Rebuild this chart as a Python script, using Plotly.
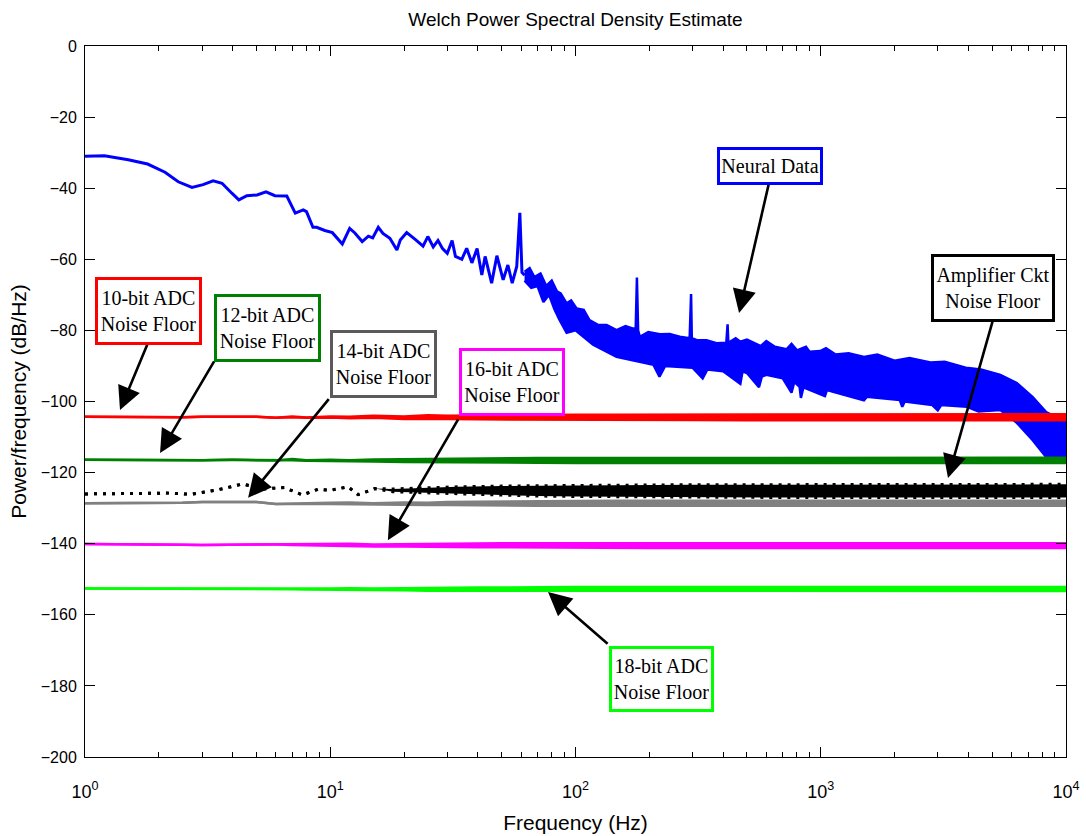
import plotly.graph_objects as go

# ---------------- data ----------------
neural_low_f = [1, 1.2, 1.5, 1.8, 2.12, 2.4, 2.73, 3.03, 3.33, 3.62, 3.97, 4.24, 4.57, 5.03, 5.47,
                5.95, 6.65, 7.2, 7.76, 8.0, 8.5, 8.8, 9.5, 10.2, 11.2, 12.0, 12.6, 13.5, 14.3, 14.9,
                15.7, 16.4, 17.5, 18.7, 19.3, 20.5, 22.2, 23.9, 25, 26.3, 27.5, 28.7, 30, 31.4, 32.4,
                34.4, 36, 37.8, 39.7, 41.5, 42.8, 45.5, 47.8, 50.7, 53, 55.2, 57.6, 59.3, 60.5, 62]
neural_low_v = [-31, -30.9, -32.0, -33.2, -35.5, -38.2, -39.8, -39.0, -37.9, -38.6, -41.4, -43.3, -42.1,
                -41.9, -41.0, -42.1, -42.2, -47.0, -46.1, -46.6, -51.0, -51.0, -51.9, -52.5, -55.7,
                -51.3, -52.6, -55.0, -53.5, -54.0, -51.0, -52.7, -54.1, -57.4, -54.6, -52.5, -54.4,
                -56.3, -53.6, -56.5, -54.7, -57.0, -58.3, -54.7, -59.2, -60.0, -56.9, -61.0, -57.0,
                -64.4, -59.2, -66.7, -59.0, -65.8, -61.6, -66.7, -62.0, -46.9, -63.7, -64.5]

neural_hi_f = [62, 65, 68, 72, 76, 80, 84, 87, 92, 96, 101, 108, 114, 124, 134, 147, 160, 172, 176,
               178, 180, 183, 198, 221, 242, 266, 292, 296, 298, 311, 342, 376, 412, 417, 420, 450,
               470, 500, 570, 600, 650, 725, 760, 800, 870, 900, 995, 1050, 1150, 1300, 1500, 1700,
               2000, 2300, 2800, 3200, 3900, 4500, 5400, 6300, 7300, 8300, 9200, 10000]
neural_hi_v = [-63.5, -62.5, -65, -64, -67.5, -66, -69, -69.6, -72.4, -71.6, -73.8, -74.2, -77.1,
               -78.5, -78.5, -79.9, -78.8, -79.5, -79.5, -65.1, -80, -81.8, -80.5, -81.1, -81, -81.8,
               -82.2, -69.8, -82.2, -82.7, -82.8, -83.6, -83.5, -78.3, -83.5, -82.2, -83.2, -82.6,
               -84.4, -83.0, -84.6, -85.3, -83.8, -85.6, -84.6, -86.0, -85.8, -85.0, -86.8, -86.4,
               -87.5, -86.8, -88.5, -87.8, -89.0, -88.8, -90.5, -91.0, -92.5, -94.8, -98.7, -103.0,
               -104.5, -105.5]

neural_lo_f = [62, 66, 70, 74, 78, 82, 86, 92, 100, 118, 147, 208, 220, 232, 300, 330, 345, 400, 470,
               480, 500, 560, 575, 600, 700, 760, 780, 820, 830, 850, 1040, 1060, 1500, 1540, 2100,
               2150, 2200, 2850, 3000, 3100, 3950, 4400, 5400, 6300, 7300, 8300, 9200, 10000]
neural_lo_v = [-66, -68, -67.5, -72, -70, -74, -77, -80.7, -80, -84, -87.4, -89.7, -93, -90, -90.5,
               -93.5, -91, -91.5, -95, -91.5, -92, -96, -93, -92.5, -93.5, -97.5, -94.5, -95.9, -99,
               -96, -98.5, -96.8, -99.7, -98.7, -99.6, -101.5, -100, -101, -102.5, -101, -101.5,
               -102.8, -102.4, -106, -110.8, -115.6, -116, -116]

floor_f = [1, 1.5, 2, 2.5, 3, 4, 5, 6, 7, 8, 10, 12, 15, 20, 25, 30, 40, 50, 70, 100, 150, 200,
           300, 500, 700, 1000, 1500, 2000, 3000, 5000, 7000, 10000]

adc10_hi = [-104.3, -104.4, -104.5, -104.4, -104.3, -104.3, -104.3, -104.6, -104.2, -104.5, -104.2,
            -104.3, -104.0, -104.2, -103.9, -104.0, -103.9, -103.8, -103.8, -103.7, -103.7, -103.7,
            -103.6, -103.6, -103.6, -103.6, -103.6, -103.6, -103.6, -103.6, -103.6, -103.6]
adc10_lo = [-104.3, -104.4, -104.5, -104.4, -104.3, -104.3, -104.3, -104.6, -104.4, -104.6, -104.5,
            -104.7, -104.6, -104.9, -104.8, -104.9, -105.0, -105.0, -105.1, -105.1, -105.2, -105.2,
            -105.2, -105.3, -105.3, -105.3, -105.3, -105.3, -105.3, -105.3, -105.3, -105.3]

adc12_hi = [-116.4, -116.5, -116.5, -116.5, -116.5, -116.4, -116.4, -116.6, -116.2, -116.5, -116.4,
            -116.5, -116.3, -116.2, -116.2, -116.1, -116.0, -116.0, -115.9, -115.9, -115.9, -115.8,
            -115.8, -115.8, -115.8, -115.8, -115.8, -115.8, -115.8, -115.8, -115.8, -115.8]
adc12_lo = [-116.4, -116.5, -116.5, -116.5, -116.5, -116.4, -116.4, -116.6, -116.5, -116.7, -116.7,
            -116.8, -116.9, -117.0, -117.0, -117.1, -117.1, -117.2, -117.2, -117.3, -117.3, -117.3,
            -117.3, -117.3, -117.3, -117.3, -117.3, -117.3, -117.3, -117.3, -117.3, -117.3]

adc14_hi = [-128.6, -128.6, -128.6, -128.5, -128.3, -128.4, -128.3, -128.8, -128.6, -128.6, -128.5,
            -128.4, -128.6, -128.4, -128.5, -128.3, -128.2, -128.1, -128.0, -128.0, -127.9, -127.9,
            -127.9, -127.9, -127.9, -127.9, -127.9, -127.9, -127.9, -127.9, -127.9, -127.9]
adc14_lo = [-128.6, -128.6, -128.6, -128.5, -128.3, -128.4, -128.3, -128.8, -128.7, -128.8, -128.8,
            -128.9, -129.0, -129.0, -129.1, -129.1, -129.2, -129.2, -129.3, -129.3, -129.3, -129.3,
            -129.3, -129.3, -129.3, -129.3, -129.3, -129.3, -129.3, -129.3, -129.3, -129.3]

adc16_hi = [-140.1, -140.1, -140.2, -140.3, -140.4, -140.3, -140.2, -140.2, -140.2, -140.2, -140.1,
            -140.0, -140.2, -140.1, -140.0, -140.0, -140.0, -139.9, -139.9, -139.9, -139.9, -139.9,
            -139.9, -139.9, -139.9, -139.9, -139.9, -139.9, -139.9, -139.9, -139.9, -139.9]
adc16_lo = [-140.1, -140.1, -140.2, -140.3, -140.4, -140.3, -140.2, -140.2, -140.4, -140.5, -140.6,
            -140.7, -140.8, -140.8, -140.9, -140.9, -141.0, -141.0, -141.1, -141.1, -141.2, -141.2,
            -141.2, -141.2, -141.2, -141.2, -141.2, -141.2, -141.2, -141.2, -141.2, -141.2]

adc18_hi = [-152.6, -152.6, -152.7, -152.7, -152.7, -152.6, -152.6, -152.8, -152.6, -152.6, -152.6,
            -152.5, -152.6, -152.5, -152.4, -152.4, -152.3, -152.3, -152.2, -152.2, -152.2, -152.2,
            -152.2, -152.2, -152.2, -152.2, -152.2, -152.2, -152.2, -152.2, -152.2, -152.2]
adc18_lo = [-152.6, -152.6, -152.7, -152.7, -152.7, -152.6, -152.6, -152.8, -152.8, -152.9, -152.9,
            -153.0, -153.1, -153.1, -153.2, -153.2, -153.2, -153.3, -153.3, -153.3, -153.3, -153.3,
            -153.3, -153.3, -153.3, -153.3, -153.3, -153.3, -153.3, -153.3, -153.3, -153.3]

amp_f = [1, 1.5, 2, 2.1, 2.7, 3.5, 4.4, 5.3, 6.5, 7.7, 8.9, 10, 11.8, 13, 15.2, 18, 22, 27, 33, 40,
         50, 70, 100, 150, 200, 300, 500, 700, 1000, 1500, 2000, 3000, 5000, 7000, 10000]
amp_hi = [-126.0, -126.0, -125.8, -125.7, -126.1, -124.8, -123.2, -124.6, -124.2, -126.3, -124.7,
          -125.0, -124.0, -126.2, -124.5, -124.6, -124.3, -124.2, -124.0, -124.0, -123.8, -123.7,
          -123.6, -123.5, -123.5, -123.4, -123.4, -123.4, -123.3, -123.3, -123.3, -123.3, -123.3,
          -123.3, -123.3]
amp_lo = [-126.0, -126.0, -125.8, -125.7, -126.1, -124.8, -123.2, -124.6, -124.2, -126.3, -124.7,
          -125.0, -124.0, -126.2, -124.5, -125.4, -125.6, -125.8, -126.0, -126.2, -126.4, -126.6,
          -126.7, -126.8, -126.9, -127.0, -127.0, -127.0, -127.0, -127.0, -127.0, -127.0, -127.0,
          -127.0, -127.0]

x_tick_vals = [1, 10, 100, 1000, 10000]
x_tick_text = ["10<sup>0</sup>", "10<sup>1</sup>", "10<sup>2</sup>", "10<sup>3</sup>", "10<sup>4</sup>"]

# label boxes: text, border colour, centre (log10 f, dB), box size (px)
box_texts = ["10-bit ADC<br>Noise Floor", "12-bit ADC<br>Noise Floor", "14-bit ADC<br>Noise Floor",
             "16-bit ADC<br>Noise Floor", "18-bit ADC<br>Noise Floor", "Neural Data",
             "Amplifier Ckt<br>Noise Floor"]
box_colors = ["#FF0000", "#008000", "#5A5A5A", "#FF00FF", "#00FF00", "#0000FF", "#000000"]
box_x = [0.259, 0.744, 1.217, 1.741, 2.351, 2.793, 3.702]
box_y = [-74.5, -79.3, -89.5, -94.5, -178.1, -33.8, -68.1]
box_w = [107, 107, 107, 106, 105, 106, 124]
box_h = [68, 68, 68, 68, 66, 38, 68]
# arrows: tail -> tip (log10 f, dB)
arrow_tail_x = [0.257, 0.530, 0.999, 1.525, 2.137, 2.789, 3.702]
arrow_tail_y = [-83.5, -88.3, -98.9, -104.6, -168.5, -38.5, -77.1]
arrow_tip_x = [0.1427, 0.306, 0.665, 1.235, 1.888, 2.667, 3.519]
arrow_tip_y = [-102.4, -114.5, -127.1, -139.0, -153.6, -75.1, -121.5]

# ---------------- figure ----------------
fig = go.Figure()

BLUE = "#0000FF"
fig.add_trace(go.Scatter(x=neural_low_f, y=neural_low_v, mode="lines",
                         line=dict(color=BLUE, width=3), showlegend=False))
fig.add_trace(go.Scatter(x=neural_lo_f, y=neural_lo_v, mode="lines",
                         line=dict(color=BLUE, width=2.5), showlegend=False))
fig.add_trace(go.Scatter(x=neural_hi_f, y=neural_hi_v, mode="lines", fill="tonexty",
                         fillcolor=BLUE, line=dict(color=BLUE, width=2.5), showlegend=False))


def add_band(fx, lo, hi, color, dash="solid", width=2.5):
    fig.add_trace(go.Scatter(x=fx, y=lo, mode="lines",
                             line=dict(color=color, width=width, dash=dash), showlegend=False))
    fig.add_trace(go.Scatter(x=fx, y=hi, mode="lines", fill="tonexty", fillcolor=color,
                             line=dict(color=color, width=width, dash=dash), showlegend=False))


add_band(floor_f, adc10_lo, adc10_hi, "#FF0000")
add_band(floor_f, adc12_lo, adc12_hi, "#008000")
add_band(amp_f, amp_lo, amp_hi, "#000000", dash="3px,6px", width=3)
add_band(floor_f, adc14_lo, adc14_hi, "#808080")
add_band(floor_f, adc16_lo, adc16_hi, "#FF00FF")
add_band(floor_f, adc18_lo, adc18_hi, "#00FF00")

annotations = []
for i in range(len(box_texts)):
    annotations.append(dict(
        x=arrow_tip_x[i], y=arrow_tip_y[i], xref="x", yref="y",
        ax=arrow_tail_x[i], ay=arrow_tail_y[i], axref="x", ayref="y",
        text="", showarrow=True, arrowhead=2, arrowsize=1.8, arrowwidth=2.6,
        arrowcolor="black"))
for i in range(len(box_texts)):
    bw = 3
    annotations.append(dict(
        x=box_x[i], y=box_y[i], xref="x", yref="y", xanchor="center", yanchor="middle",
        text=box_texts[i], showarrow=False, bgcolor="white",
        bordercolor=box_colors[i], borderwidth=bw, borderpad=0,
        width=box_w[i] - 2 * bw, height=box_h[i] - 2 * bw,
        font=dict(family="Liberation Serif, Times New Roman, serif", size=20, color="black")))

sans = "Liberation Sans, Arial, sans-serif"
minor_vals = [m * 10 ** d for d in range(4) for m in range(2, 10)]

fig.update_xaxes(type="log", range=[0, 4], tickmode="array", tickvals=x_tick_vals,
                 ticktext=x_tick_text, ticks="inside", ticklen=10, tickwidth=1, tickcolor="black",
                 showline=True, linecolor="black", linewidth=1, mirror="allticks",
                 showgrid=False, zeroline=False, ticklabelstandoff=18, automargin=False,
                 tickfont=dict(family=sans, size=18, color="black"),
                 minor=dict(tickmode="array", tickvals=minor_vals, ticks="inside", ticklen=5,
                            tickwidth=1, tickcolor="black", showgrid=False),
                 title=dict(text="Frequency (Hz)", font=dict(family=sans, size=21, color="black"),
                            standoff=14))
fig.update_yaxes(range=[-200, 0], tickmode="linear", tick0=0, dtick=20, ticks="inside",
                 ticklen=10, tickwidth=1, tickcolor="black", showline=True, linecolor="black",
                 linewidth=1, mirror="allticks", showgrid=False, zeroline=False,
                 ticklabelstandoff=4, automargin=False,
                 tickfont=dict(family=sans, size=16, color="black"),
                 title=dict(text="Power/frequency (dB/Hz)",
                            font=dict(family=sans, size=21, color="black"), standoff=8))

fig.update_layout(
    width=1086, height=836,
    margin=dict(l=85, r=20, t=46, b=79, autoexpand=False),
    paper_bgcolor="white", plot_bgcolor="white",
    title=dict(text="Welch Power Spectral Density Estimate", x=0.5, xanchor="center",
               xref="paper", y=1 - 19 / 836, yanchor="middle", yref="container",
               font=dict(family=sans, size=19, color="black")),
    annotations=annotations,
    showlegend=False,
)

fig.write_html("out.html")
